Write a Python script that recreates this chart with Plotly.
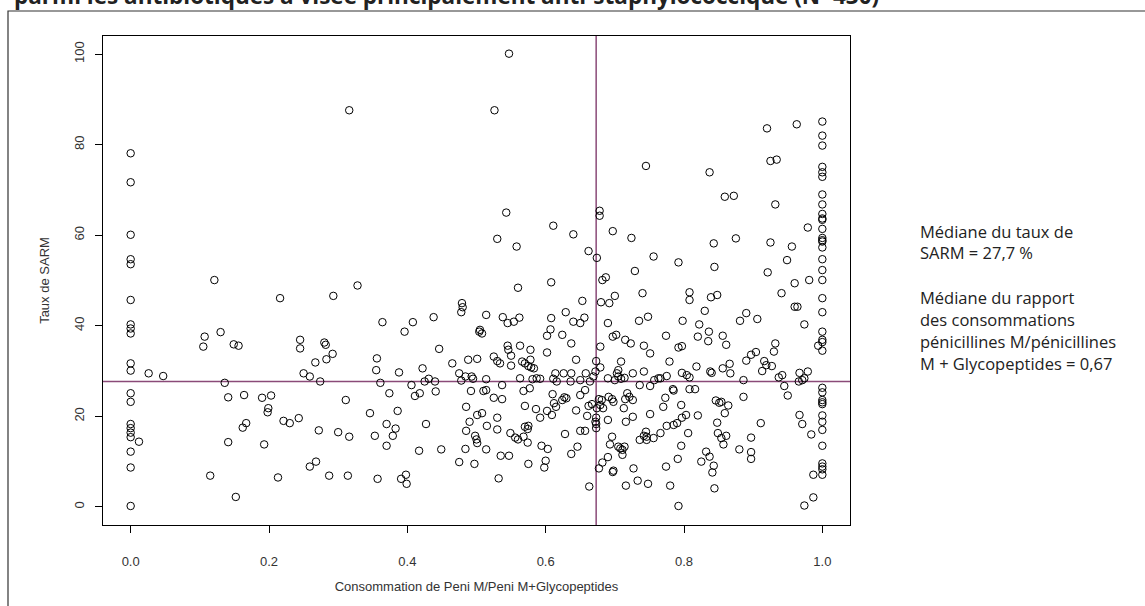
import plotly.graph_objects as go

# ---------------- data ----------------
# x = Consommation de Peni M / (Peni M + Glycopeptides), y = Taux de SARM (%)
x_zero = [0, 0, 0, 0, 0, 0, 0, 0, 0, 0, 0, 0, 0, 0, 0, 0, 0, 0, 0, 0,
          0.012, 0.026, 0.047, 0.121]
y_zero = [78.1, 71.7, 60.1, 54.7, 53.6, 45.7, 40.3, 39.4, 38.3, 31.7, 30.1, 25.1, 23.2, 18.3, 17.4, 16.4, 15.4, 12.2, 8.7, 0.2,
          14.4, 29.5, 28.9, 50.1]

x_low = [0.216, 0.107, 0.105, 0.130, 0.149, 0.156, 0.136, 0.141, 0.164, 0.190, 0.203, 0.199, 0.198, 0.221, 0.230, 0.167,
         0.162, 0.141, 0.193, 0.115, 0.213, 0.152, 0.316, 0.328,
         0.293, 0.245, 0.245, 0.280, 0.282, 0.292, 0.283, 0.267, 0.250, 0.259, 0.274, 0.311, 0.243, 0.272, 0.300, 0.316,
         0.259, 0.268, 0.287, 0.314, 0.346, 0.356, 0.355, 0.361, 0.374, 0.364, 0.396, 0.408, 0.438, 0.388, 0.422, 0.406,
         0.411, 0.418, 0.425, 0.431, 0.440, 0.441, 0.446, 0.465, 0.479, 0.480, 0.478, 0.488, 0.501, 0.504, 0.475, 0.484,
         0.493, 0.495, 0.478, 0.492, 0.485, 0.501, 0.490, 0.485, 0.498, 0.500, 0.501, 0.484, 0.475, 0.497, 0.427, 0.449,
         0.417, 0.386, 0.370, 0.383, 0.379, 0.353, 0.370, 0.357, 0.391, 0.398, 0.399]
y_low = [46.1, 37.6, 35.4, 38.6, 35.9, 35.6, 27.4, 24.2, 24.7, 24.1, 24.6, 21.8, 20.9, 19.0, 18.5, 18.5,
         17.5, 14.3, 13.8, 6.9, 6.5, 2.2, 87.6, 48.9,
         46.6, 36.9, 35.0, 36.3, 35.8, 33.8, 32.6, 31.9, 29.5, 28.8, 27.7, 23.6, 19.6, 16.9, 16.5, 15.5,
         8.9, 10.0, 6.9, 6.9, 20.7, 32.8, 30.2, 27.4, 25.1, 40.8, 38.7, 40.8, 41.9, 29.7, 30.6, 26.9,
         24.5, 25.1, 27.7, 28.3, 27.7, 25.5, 34.9, 31.7, 45.0, 44.1, 43.0, 32.5, 32.7, 38.7, 29.5, 28.8,
         28.8, 28.3, 27.9, 25.6, 22.1, 20.3, 18.8, 16.8, 15.7, 14.9, 14.1, 12.8, 9.9, 9.5, 18.3, 12.7,
         12.4, 21.2, 18.3, 17.3, 15.7, 15.7, 13.5, 6.2, 6.2, 7.1, 5.1]

x_mid = [0.547, 0.526, 0.745, 0.543, 0.678, 0.678, 0.611, 0.640, 0.697, 0.724, 0.530, 0.558, 0.662, 0.674, 0.756, 0.729,
         0.608, 0.682, 0.687, 0.560,
         0.740, 0.700, 0.680, 0.692, 0.653, 0.629, 0.514, 0.538, 0.545, 0.554, 0.562, 0.608, 0.640, 0.650, 0.656, 0.690,
         0.735, 0.748, 0.505, 0.508, 0.607, 0.602, 0.624, 0.697, 0.702, 0.715, 0.723, 0.742, 0.751, 0.637, 0.679, 0.545,
         0.546, 0.563, 0.578, 0.550, 0.602, 0.525, 0.530, 0.534, 0.550, 0.566, 0.570, 0.575, 0.579, 0.583, 0.578, 0.644,
         0.673, 0.679, 0.709, 0.705, 0.703, 0.726, 0.742, 0.514, 0.537, 0.563, 0.581, 0.587, 0.592, 0.611, 0.614, 0.616,
         0.626, 0.637, 0.636, 0.650, 0.658, 0.664, 0.669, 0.672, 0.690, 0.700, 0.705, 0.709, 0.714, 0.736, 0.751, 0.757,
         0.763, 0.510, 0.514, 0.525, 0.537, 0.568, 0.577, 0.610, 0.627, 0.630, 0.650, 0.657, 0.570, 0.586, 0.592, 0.602,
         0.609, 0.612, 0.615, 0.624, 0.644, 0.662, 0.667, 0.660, 0.677, 0.681, 0.679, 0.674, 0.691, 0.696, 0.698, 0.683,
         0.718, 0.721, 0.726, 0.715, 0.713, 0.751, 0.508, 0.530, 0.515, 0.530, 0.514, 0.549, 0.556, 0.560, 0.570, 0.575,
         0.574, 0.568, 0.574, 0.535, 0.547, 0.575, 0.532, 0.594, 0.603, 0.600, 0.598, 0.628, 0.637, 0.646, 0.650, 0.657,
         0.663, 0.673, 0.672, 0.673, 0.673, 0.690, 0.677, 0.682, 0.690, 0.696, 0.693, 0.705, 0.708, 0.711, 0.714, 0.698,
         0.697, 0.711, 0.716, 0.726, 0.727, 0.716, 0.733, 0.748, 0.736, 0.742, 0.746, 0.746, 0.756, 0.745]
y_mid = [100.1, 87.6, 75.3, 65.0, 65.4, 64.3, 62.1, 60.2, 60.9, 59.4, 59.2, 57.5, 56.5, 55.0, 55.3, 52.1,
         49.6, 50.1, 50.7, 48.4,
         47.2, 46.6, 45.2, 45.0, 45.5, 43.0, 42.4, 41.9, 40.6, 40.9, 41.8, 41.7, 40.9, 40.6, 41.8, 40.6,
         41.1, 42.0, 39.1, 38.3, 39.2, 37.8, 38.0, 37.6, 38.0, 36.9, 36.1, 35.6, 33.9, 36.1, 35.4, 35.6,
         34.7, 35.6, 34.7, 33.4, 34.1, 33.2, 32.2, 31.7, 31.2, 32.1, 31.7, 31.1, 30.8, 30.6, 32.5, 32.5,
         32.2, 30.8, 32.1, 30.2, 29.5, 29.5, 29.9, 28.2, 26.9, 28.4, 28.2, 28.4, 28.3, 28.3, 29.5, 27.7,
         29.5, 29.5, 27.7, 28.0, 29.5, 27.7, 28.8, 29.9, 28.4, 28.0, 28.8, 28.3, 28.5, 26.9, 26.7, 28.0,
         28.4, 25.6, 25.8, 24.1, 23.8, 25.6, 26.2, 24.9, 24.2, 24.0, 24.7, 25.8, 22.3, 21.6, 19.7, 21.2,
         20.3, 22.9, 22.1, 23.6, 21.3, 22.3, 22.7, 20.1, 23.8, 23.6, 22.5, 21.8, 24.3, 23.8, 23.2, 21.8,
         25.1, 24.3, 23.6, 23.8, 21.8, 20.5, 20.7, 19.7, 17.9, 17.1, 12.7, 16.3, 15.3, 14.9, 17.7, 17.9,
         17.2, 15.5, 14.2, 11.3, 11.3, 9.5, 6.3, 13.5, 12.8, 10.2, 8.7, 16.1, 11.7, 13.3, 16.8, 16.8,
         4.5, 19.7, 18.8, 18.3, 17.4, 19.2, 8.5, 9.8, 11.0, 15.5, 13.8, 13.3, 12.9, 12.6, 13.3, 8.0,
         7.7, 11.5, 18.8, 19.9, 8.5, 4.7, 5.8, 5.1, 14.8, 15.7, 15.5, 14.8, 15.2, 16.6]

x_high = [0.920, 0.963, 1, 1, 1, 1, 1, 1, 1, 1, 1, 1, 1, 1, 1, 1, 1, 1, 1, 1, 1,
          0.925, 0.934, 0.837, 0.859, 0.872, 0.932, 0.979, 0.843, 0.875, 0.925, 0.956, 0.792, 0.844, 0.949, 0.921,
          0.960, 0.981,
          0.808, 0.808, 0.839, 0.848, 0.830, 0.798, 0.822, 0.774, 0.820, 0.836, 0.835, 0.856, 0.861, 0.792, 0.797,
          0.881, 0.890, 0.906, 0.941, 0.960, 0.964, 0.974, 0.932, 0.930, 0.779, 0.766, 0.775, 0.797, 0.804, 0.808,
          0.818, 0.838, 0.840, 0.856, 0.866, 0.867, 0.890, 0.897, 0.904, 0.916, 0.919, 0.913, 0.927, 0.886, 0.937,
          0.942, 0.945, 0.950, 0.967, 0.979, 0.966, 0.971, 0.974,
          1, 1, 1, 1, 1, 1, 0.994, 1, 1, 1, 1, 1, 1, 1, 1, 1, 1, 1, 1, 1,
          0.987, 0.987, 0.974, 0.984, 0.967, 0.971, 0.911, 0.886, 0.846, 0.851, 0.854, 0.864, 0.859, 0.848, 0.849,
          0.854, 0.861, 0.857, 0.897, 0.880, 0.897, 0.897, 0.832, 0.837, 0.825, 0.843, 0.841, 0.844, 0.796, 0.773,
          0.770, 0.784, 0.785, 0.808, 0.816, 0.820, 0.803, 0.797, 0.790, 0.785, 0.775, 0.766, 0.806, 0.796, 0.791,
          0.774, 0.780, 0.792]
y_high = [83.6, 84.5, 85.1, 82.0, 79.8, 75.1, 73.9, 72.9, 69.0, 66.8, 64.7, 63.7, 63.4, 61.4, 59.4, 58.9, 58.6, 57.3, 54.7, 52.3, 50.1,
          76.4, 76.7, 73.9, 68.5, 68.7, 66.8, 61.7, 58.2, 59.3, 58.4, 57.5, 54.0, 53.0, 54.5, 51.8,
          49.4, 50.1,
          47.4, 45.7, 46.3, 46.8, 43.3, 41.1, 40.3, 37.8, 37.6, 38.7, 36.6, 37.8, 35.8, 35.2, 35.5,
          41.1, 42.8, 41.5, 47.2, 44.2, 44.2, 40.3, 36.1, 34.3, 32.1, 28.4, 28.9, 29.6, 29.1, 28.6,
          31.0, 29.9, 29.6, 30.6, 31.6, 29.5, 32.3, 33.6, 34.2, 32.2, 31.3, 30.0, 31.1, 28.0, 28.6,
          29.1, 26.7, 24.6, 29.6, 29.9, 27.7, 28.0, 28.4,
          46.1, 43.0, 38.7, 36.9, 36.4, 34.5, 35.6, 26.3, 25.3, 23.6, 23.1, 22.7, 20.2, 18.8, 17.0, 13.5, 9.6, 8.9, 8.3, 7.1,
          7.1, 2.1, 0.3, 16.0, 20.3, 18.3, 18.5, 24.3, 23.5, 23.0, 23.2, 22.4, 20.7, 18.6, 16.3,
          15.2, 15.7, 13.8, 15.3, 12.7, 12.1, 10.6, 12.2, 11.1, 10.0, 9.1, 7.6, 4.1, 22.5, 24.1,
          22.1, 26.0, 25.7, 26.0, 26.0, 20.2, 20.3, 19.7, 18.5, 18.1, 17.9, 16.3, 16.3, 13.5, 10.6,
          8.9, 4.7, 0.2]

median_sarm = 27.7
median_ratio = 0.673

x_ticks = [0.0, 0.2, 0.4, 0.6, 0.8, 1.0]
x_tick_text = ["0.0", "0.2", "0.4", "0.6", "0.8", "1.0"]
y_ticks = [0, 20, 40, 60, 80, 100]

title_text = "parmi les antibiotiques à visée principalement anti-staphylococcique (N=430)"
note_lines = ["Médiane du taux de", "SARM = 27,7 %", "", "Médiane du rapport", "des consommations",
              "pénicillines M/pénicillines", "M + Glycopeptides = 0,67"]

# ---------------- figure ----------------
xs = x_zero + x_low + x_mid + x_high
ys = y_zero + y_low + y_mid + y_high

W, H = 1145, 606
L, R, T, B = 103, 295, 36, 81
pw, ph = W - L - R, H - T - B

def px_x(p):
    return (p - L) / pw

def px_y(p):
    return (H - B - p) / ph

fig = go.Figure()
fig.add_trace(go.Scatter(
    x=xs, y=ys, mode="markers",
    marker=dict(symbol="circle-open", size=7.5, color="black", line=dict(width=1, color="black")),
    hoverinfo="x+y", showlegend=False, cliponaxis=False,
))

line_col = "#8a4a78"
fig.add_shape(type="line", xref="x", yref="paper", x0=median_ratio, x1=median_ratio, y0=0, y1=1,
              line=dict(color=line_col, width=1.5), layer="below")
fig.add_shape(type="line", xref="paper", yref="y", x0=0, x1=1, y0=median_sarm, y1=median_sarm,
              line=dict(color=line_col, width=1.5), layer="below")

# outer frame (its right and bottom sides run past the picture)
fig.add_shape(type="rect", xref="paper", yref="paper",
              x0=px_x(8), x1=px_x(1160), y0=px_y(620), y1=px_y(11),
              line=dict(color="#333333", width=1.2), fillcolor="rgba(0,0,0,0)")

fig.add_annotation(text="<b>" + title_text + "</b>", xref="paper", yref="paper",
                   x=px_x(12), y=px_y(-4), xanchor="left", yanchor="middle", showarrow=False,
                   font=dict(family="Open Sans", size=22.5, color="#222222"))

note_y = [231, 253, 275, 297, 319, 341, 363]
for txt, yy in zip(note_lines, note_y):
    if txt:
        fig.add_annotation(text=txt, xref="paper", yref="paper", x=px_x(918), y=px_y(yy),
                           xanchor="left", yanchor="middle", showarrow=False,
                           font=dict(family="Open Sans", size=16.5, color="#222222"))

axis_font = dict(family="Liberation Sans, Arial", size=13, color="#333333")
fig.update_layout(
    width=W, height=H, margin=dict(l=L, r=R, t=T, b=B, pad=0),
    paper_bgcolor="white", plot_bgcolor="white",
    font=axis_font,
    xaxis=dict(range=[-0.04, 1.04], tickvals=x_ticks, ticktext=x_tick_text, ticks="outside", ticklen=7,
               tickcolor="black", showline=True, linecolor="black", linewidth=1, mirror=True,
               showgrid=False, zeroline=False, tickfont=axis_font, ticklabelstandoff=17,
               title=dict(text="Consommation de Peni M/Peni M+Glycopeptides", font=axis_font, standoff=14)),
    yaxis=dict(range=[-4, 104], tickvals=y_ticks, ticks="outside", ticklen=7, tickangle=-90,
               tickcolor="black", showline=True, linecolor="black", linewidth=1, mirror=True,
               showgrid=False, zeroline=False, tickfont=axis_font, ticklabelstandoff=6,
               title=dict(text="Taux de SARM", font=axis_font, standoff=19)),
)

fig.write_html("out.html")
